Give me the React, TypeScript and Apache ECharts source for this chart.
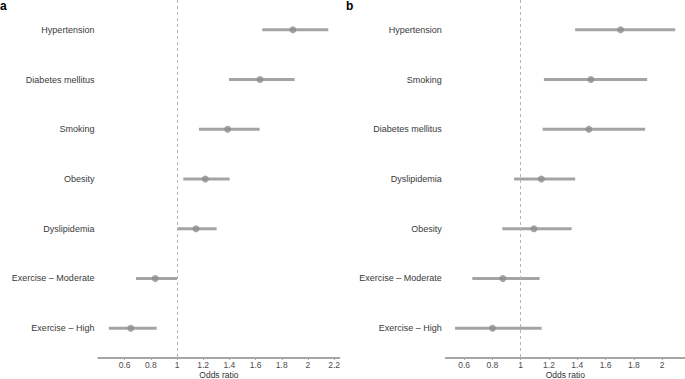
import React, { useEffect, useRef } from "react";
import * as echarts from "echarts";

const categoriesA = ["Hypertension", "Diabetes mellitus", "Smoking", "Obesity", "Dyslipidemia", "Exercise – Moderate", "Exercise – High"];
const orA = [1.885, 1.634, 1.387, 1.216, 1.145, 0.834, 0.647];
const loA = [1.651, 1.397, 1.168, 1.048, 1.005, 0.687, 0.479];
const hiA = [2.155, 1.898, 1.631, 1.402, 1.303, 1.0, 0.845];

const categoriesB = ["Hypertension", "Smoking", "Diabetes mellitus", "Dyslipidemia", "Obesity", "Exercise – Moderate", "Exercise – High"];
const orB = [1.706, 1.496, 1.482, 1.146, 1.094, 0.874, 0.801];
const loB = [1.385, 1.164, 1.155, 0.953, 0.870, 0.658, 0.536];
const hiB = [2.092, 1.894, 1.880, 1.385, 1.360, 1.134, 1.148];

const ticksA = [0.6, 0.8, 1, 1.2, 1.4, 1.6, 1.8, 2, 2.2];
const ticksB = [0.6, 0.8, 1, 1.2, 1.4, 1.6, 1.8, 2];
const rowIdx = [0, 1, 2, 3, 4, 5, 6];

const FONT = "Liberation Sans, Arial, Helvetica, sans-serif";
const LINE_C = "#a4a4a4";
const PT_C = "#8d8d8d";

export default function App() {
  const ref = useRef<HTMLDivElement>(null);
  useEffect(() => {
    document.body.style.margin = "0";
    const chart = echarts.init(ref.current!, undefined, { renderer: "svg" });
    const mkX = (idx: number, min: number, max: number, ticks: number[]) => ({
      type: "value",
      gridIndex: idx,
      position: "bottom",
      min,
      max,
      name: "Odds ratio",
      nameLocation: "middle",
      nameGap: 12,
      nameMoveOverlap: false,
      nameTextStyle: { fontFamily: FONT, fontSize: 8.5, color: "#333", lineHeight: 9 },
      axisLine: { show: true, onZero: false, lineStyle: { color: "#a6a6a6", width: 2 } },
      axisTick: { show: true, length: 2, customValues: ticks, lineStyle: { color: "#a6a6a6", width: 1 } },
      axisLabel: { customValues: ticks, margin: 2.5, fontFamily: FONT, fontSize: 8.5, lineHeight: 8, color: "#4d4d4d" },
      splitLine: { show: false },
    });
    const mkY = (idx: number, cats: string[]) => ({
      type: "value",
      gridIndex: idx,
      min: -0.6,
      max: 6.6,
      inverse: true,
      axisLine: { show: false, onZero: false },
      axisTick: { show: false },
      splitLine: { show: false },
      axisLabel: {
        customValues: rowIdx,
        margin: 4,
        fontFamily: FONT,
        fontSize: 9,
        color: "#3a3a3a",
        formatter: (v: number) => cats[Math.round(v)] ?? "",
      },
    });
    const mkBars = (idx: number, lo: number[], hi: number[]) => ({
      type: "custom",
      xAxisIndex: idx,
      yAxisIndex: idx,
      data: rowIdx.map((i) => [lo[i], hi[i], i]),
      renderItem: (_p: any, api: any) => {
        const a = api.coord([api.value(0), api.value(2)]);
        const b = api.coord([api.value(1), api.value(2)]);
        return {
          type: "line",
          shape: { x1: a[0], y1: a[1], x2: b[0], y2: b[1] },
          style: { stroke: LINE_C, lineWidth: 3 },
        };
      },
      silent: true,
    });
    const mkPts = (idx: number, or: number[]) => ({
      type: "scatter",
      xAxisIndex: idx,
      yAxisIndex: idx,
      data: rowIdx.map((i) => [or[i], i]),
      symbol: "circle",
      symbolSize: 7,
      itemStyle: { color: PT_C },
      z: 3,
      markLine: {
        silent: true,
        symbol: "none",
        label: { show: false },
        lineStyle: { color: "#b5b5b5", type: [3, 3], width: 1 },
        data: [{ xAxis: 1 }],
      },
    });
    chart.setOption({
      animation: false,
      textStyle: { fontFamily: FONT },
      grid: [
        { left: 98.4, top: 0, width: 241, height: 358, outerBoundsMode: "none", containLabel: false },
        { left: 445.7, top: 0, width: 239.1, height: 358, outerBoundsMode: "none", containLabel: false },
      ],
      xAxis: [mkX(0, 0.4, 2.24, ticksA), mkX(1, 0.47, 2.16, ticksB)],
      yAxis: [mkY(0, categoriesA), mkY(1, categoriesB)],
      series: [mkBars(0, loA, hiA), mkPts(0, orA), mkBars(1, loB, hiB), mkPts(1, orB)],
      graphic: [
        { type: "text", left: 0, top: 0, style: { text: "a", fontFamily: FONT, fontSize: 12, fontWeight: "bold", fill: "#000" } },
        { type: "text", left: 346, top: 0, style: { text: "b", fontFamily: FONT, fontSize: 12, fontWeight: "bold", fill: "#000" } },
      ],
    });
    return () => chart.dispose();
  }, []);
  return <div ref={ref} style={{ width: 685, height: 379 }} />;
}
